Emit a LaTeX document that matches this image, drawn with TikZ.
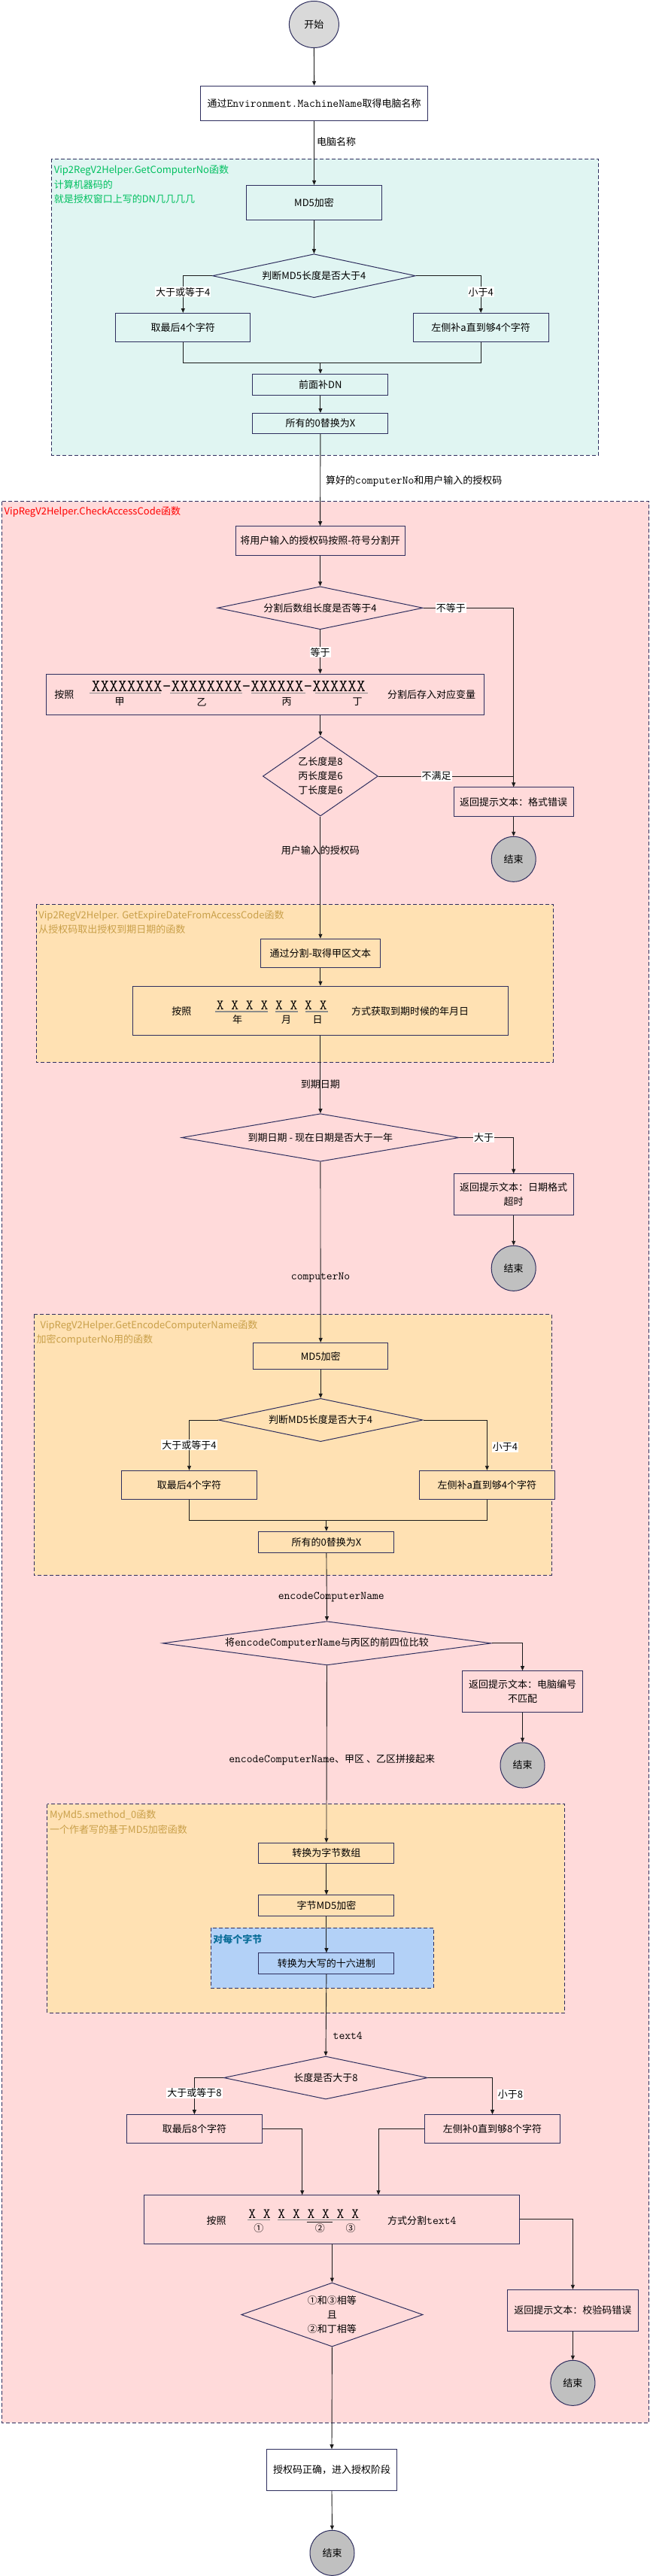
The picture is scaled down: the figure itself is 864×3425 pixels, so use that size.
\documentclass[tikz,border=0pt]{standalone}
\usepackage{fontspec}
\setmainfont{Noto Sans CJK SC}
\usetikzlibrary{shapes.geometric,arrows.meta,calc}
\definecolor{navy}{HTML}{2E2E5E}
\definecolor{cyanbg}{HTML}{E0F5F2}
\definecolor{pinkbg}{HTML}{FFDADA}
\definecolor{orangebg}{HTML}{FFE1B3}
\definecolor{bluebg}{HTML}{B3D1F7}
\definecolor{startgray}{HTML}{D9D9D9}
\definecolor{endgray}{HTML}{C0C0C0}
\definecolor{greentxt}{HTML}{00C060}
\definecolor{redtxt}{HTML}{FF0000}
\definecolor{goldtxt}{HTML}{C9A04A}
\definecolor{bluetxt}{HTML}{0B6E99}
\definecolor{linec}{HTML}{1A1A1A}
\definecolor{ulc}{HTML}{8C8C8C}
\newcommand\monotxt[1]{{\fontsize{15.2}{19}\ttfamily #1}}
\begin{document}
\begin{tikzpicture}[x=1pt,y=-1pt, font=\fontsize{13}{19}\selectfont,
  box/.style={rectangle, draw=navy, line width=1pt, inner sep=2pt, align=center},
  dec/.style={diamond, draw=navy, line width=1pt, inner sep=0pt, align=center},
  term/.style={ellipse, draw=navy, line width=1pt, inner sep=0pt, fill=endgray, minimum width=59pt, minimum height=60pt},
  region/.style={draw=navy, line width=1pt, dash pattern=on 5pt off 3pt},
  arr/.style={draw=linec, line width=0.9pt, -{Triangle[length=6pt,width=5pt]}},
  ln/.style={draw=linec, line width=0.9pt},
  lbl/.style={fill=white, inner sep=1pt},
  plbl/.style={inner sep=1pt},
  title/.style={anchor=west, inner sep=0pt},
  ul/.style={draw=ulc, line width=1.2pt},
  itxt/.style={inner sep=0pt},
]
\useasboundingbox (0,0) rectangle (864,3425);
\fill[white] (0,0) rectangle (864,3425);

% regions
\draw[region, fill=cyanbg] (68.3,211.3) rectangle (795.6,605);
\draw[region, fill=pinkbg] (2,666.7) rectangle (862.8,3221);
\draw[region, fill=orangebg] (48,1202.7) rectangle (735.5,1412.3);
\draw[region, fill=orangebg] (45.2,1747.5) rectangle (733,2094.3);
\draw[region, fill=orangebg] (62.8,2398.7) rectangle (750.4,2676);
\draw[region, fill=bluebg] (280.4,2563.3) rectangle (576.3,2643.3);

% region titles
\node[title, text=greentxt] (t1a) at (71.6,226.7) {Vip2RegV2Helper.GetComputerNo函数};
\node[title, text=greentxt] (t1b) at (71.6,245.3) {计算机器码的};
\node[title, text=greentxt] (t1c) at (71.6,264.3) {就是授权窗口上写的DN几几几几};
\node[title, text=redtxt] (t2) at (5.5,681) {VipRegV2Helper.CheckAccessCode函数};
\node[title, text=goldtxt] (t3a) at (51.2,1217.3) {Vip2RegV2Helper. GetExpireDateFromAccessCode函数};
\node[title, text=goldtxt] (t3b) at (51.2,1236) {从授权码取出授权到期日期的函数};
\node[title, text=goldtxt] (t4a) at (53.4,1762.7) {VipRegV2Helper.GetEncodeComputerName函数};
\node[title, text=goldtxt] (t4b) at (48.5,1781.7) {加密computerNo用的函数};
\node[title, text=goldtxt] (t5a) at (66,2413.3) {MyMd5.smethod\_0函数};
\node[title, text=goldtxt] (t5b) at (66,2432.3) {一个作者写的基于MD5加密函数};
\node[title, text=bluetxt, font=\fontsize{13}{19}\selectfont\bfseries] (t6) at (283.2,2578.3) {对每个字节};

% top part
\node[term, fill=startgray, minimum width=66pt, minimum height=62pt] (start) at (417.4,32.5) {开始};
\node[box, fill=white, minimum width=302pt, minimum height=46pt] (b1) at (417.6,137.3) {通过\monotxt{Environment.MachineName}取得电脑名称};
\node[box, fill=cyanbg, minimum width=180pt, minimum height=46pt] (md5a) at (417.6,269.5) {MD5加密};
\node[dec, fill=cyanbg, minimum width=270pt, minimum height=58pt, shape aspect=4.66] (d1) at (417.4,366.7) {判断MD5长度是否大于4};
\node[box, fill=cyanbg, minimum width=179pt, minimum height=38pt] (lb1) at (243.3,435.5) {取最后4个字符};
\node[box, fill=cyanbg, minimum width=180pt, minimum height=38pt] (rb1) at (639.2,435.5) {左侧补a直到够4个字符};
\node[box, fill=cyanbg, minimum width=180pt, minimum height=28pt] (dn) at (425.9,511.3) {前面补DN};
\node[box, fill=cyanbg, minimum width=180pt, minimum height=27pt] (rx1) at (425.9,563) {所有的0替换为X};

% check access code
\node[box, fill=pinkbg, minimum width=225pt, minimum height=38.6pt] (split) at (425.6,719) {将用户输入的授权码按照-符号分割开};
\node[dec, fill=pinkbg, minimum width=273pt, minimum height=57pt, shape aspect=4.79] (d2) at (425.6,808.3) {分割后数组长度是否等于4};
\node[box, fill=pinkbg, minimum width=582pt, minimum height=54pt] (bb1) at (352.9,923.2) {};
\node[itxt] (bb1a) at (85.4,923.3) {按照};
\node[itxt, anchor=base, font=\fontsize{22.8}{24}\ttfamily] (bb1x) at (303.9,919.5) {XXXXXXXX-XXXXXXXX-XXXXXX-XXXXXX};
\draw[ul] (118.5,921.8) -- (213.8,921.8);
\draw[ul] (226,921.8) -- (322,921.8);
\draw[ul] (334,921.8) -- (406,921.8);
\draw[ul] (418.7,921.8) -- (489.3,921.8);
\node[itxt] (jia) at (159,933.3) {甲};
\node[itxt] (yi) at (268,933.3) {乙};
\node[itxt] (bing) at (381,933.3) {丙};
\node[itxt] (ding) at (475,933.3) {丁};
\node[itxt] (bb1b) at (573.6,924) {分割后存入对应变量};
\node[dec, fill=pinkbg, minimum width=153pt, minimum height=106pt, shape aspect=1.44] (d3) at (425.9,1032) {乙长度是8\\丙长度是6\\丁长度是6};
\node[box, fill=pinkbg, minimum width=159pt, minimum height=38.7pt] (er1) at (682.7,1066.3) {返回提示文本：格式错误};
\node[term] (end1) at (682.7,1142.3) {结束};

% expire date
\node[box, fill=orangebg, minimum width=158.6pt, minimum height=38.4pt] (getA) at (425.9,1267.5) {通过分割-取得甲区文本};
\node[box, fill=orangebg, minimum width=499pt, minimum height=65pt] (bb2) at (425.9,1343.7) {};
\node[itxt] (bb2a) at (241.3,1345) {按照};
\node[itxt, anchor=base, font=\fontsize{19}{20}\ttfamily] (bb2x) at (361.2,1342.7) {X X X X X X X X};
\draw[ul] (286,1345) -- (356,1345);
\draw[ul] (366,1345) -- (396,1345);
\draw[ul] (406,1345) -- (436.4,1345);
\node[itxt] (nian) at (315.7,1355.5) {年};
\node[itxt] (yue) at (380.7,1355.5) {月};
\node[itxt] (ri) at (422,1355.5) {日};
\node[itxt] (bb2b) at (545,1345) {方式获取到期时候的年月日};
\node[dec, fill=pinkbg, minimum width=369pt, minimum height=63.6pt, shape aspect=5.8] (d4) at (425.9,1512.5) {到期日期 - 现在日期是否大于一年};
\node[box, fill=pinkbg, minimum width=159pt, minimum height=54.7pt] (er2) at (682.7,1588.3) {返回提示文本：日期格式\\超时};
\node[term] (end2) at (682.7,1686.3) {结束};

% encode computer name
\node[box, fill=orangebg, minimum width=179pt, minimum height=35.3pt] (md5b) at (426.2,1803) {MD5加密};
\node[dec, fill=orangebg, minimum width=271.6pt, minimum height=57.3pt, shape aspect=4.74] (d5) at (426.2,1888) {判断MD5长度是否大于4};
\node[box, fill=orangebg, minimum width=180pt, minimum height=38pt] (lb2) at (251.5,1974.3) {取最后4个字符};
\node[box, fill=orangebg, minimum width=179.6pt, minimum height=38pt] (rb2) at (647.4,1974.3) {左侧补a直到够4个字符};
\node[box, fill=orangebg, minimum width=180pt, minimum height=28pt] (rx2) at (433.9,2050.3) {所有的0替换为X};
\node[dec, fill=pinkbg, minimum width=437pt, minimum height=58.3pt, shape aspect=7.5] (d6) at (434.5,2184.8) {将\monotxt{encodeComputerName}与丙区的前四位比较};
\node[box, fill=pinkbg, minimum width=159.3pt, minimum height=54.7pt] (er3) at (694.5,2249) {返回提示文本：电脑编号\\不匹配};
\node[term] (end3) at (694.5,2347) {结束};

% md5 function
\node[box, fill=orangebg, minimum width=180pt, minimum height=27.4pt] (tb) at (433.9,2464) {转换为字节数组};
\node[box, fill=orangebg, minimum width=180pt, minimum height=27.6pt] (bm) at (433.9,2533.5) {字节MD5加密};
\node[box, fill=bluebg, minimum width=180pt, minimum height=27.6pt] (hex) at (433.9,2610.5) {转换为大写的十六进制};

% text4
\node[dec, fill=pinkbg, minimum width=271pt, minimum height=57pt, shape aspect=4.75] (d7) at (433,2762.5) {长度是否大于8};
\node[box, fill=pinkbg, minimum width=179.6pt, minimum height=38.3pt] (lb3) at (258.4,2830.8) {取最后8个字符};
\node[box, fill=pinkbg, minimum width=179.7pt, minimum height=38.3pt] (rb3) at (654.5,2830.8) {左侧补0直到够8个字符};
\node[box, fill=pinkbg, minimum width=499pt, minimum height=65pt] (bb3) at (441.4,2950.8) {};
\node[itxt] (bb3a) at (287.6,2952.7) {按照};
\node[itxt, anchor=base, font=\fontsize{19}{20}\ttfamily] (bb3x) at (403.7,2949.3) {X X X X X X X X};
\draw[ul] (329,2951.5) -- (359,2951.5);
\draw[ul] (368.6,2951.5) -- (478.8,2951.5);
\draw[draw=linec, line width=1pt] (407.7,2954) -- (442.4,2954);
\node[itxt] (c1) at (343.8,2962.5) {①};
\node[itxt] (c2) at (425.3,2962.5) {②};
\node[itxt] (c3) at (466,2962.5) {③};
\node[itxt] (bb3b) at (560.8,2952.7) {方式分割\monotxt{text4}};
\node[box, fill=pinkbg, minimum width=174pt, minimum height=55pt] (er4) at (761.4,3071.8) {返回提示文本：校验码错误};
\node[term] (end4) at (761.4,3168.3) {结束};
\node[dec, fill=pinkbg, minimum width=241.3pt, minimum height=85pt, shape aspect=2.84] (d8) at (441.4,3077.5) {①和③相等\\且\\②和丁相等};
\node[box, fill=white, minimum width=173.5pt, minimum height=54.7pt] (ok) at (441,3284) {授权码正确，进入授权阶段};
\node[term] (end5) at (441.5,3394.3) {结束};

% connectors
\draw[arr] (start.south) -- (b1.north);
\draw[arr] (b1.south) -- (md5a.north) node[pos=0.33, right=2pt, plbl] {电脑名称};
\draw[arr] (md5a.south) -- (d1.north);
\draw[arr] (d1.west) -| (lb1.north) node[pos=0.72, lbl] {大于或等于4};
\draw[arr] (d1.east) -| (rb1.north) node[pos=0.72, lbl] {小于4};
\coordinate (m1) at (425.9,482.3);
\draw[ln] (lb1.south) |- (m1) -| (rb1.south);
\draw[arr] (m1) -- (dn.north);
\draw[arr] (dn.south) -- (rx1.north);
\draw[arr] (rx1.south) -- (split.north) node[pos=0.515, right=6pt, plbl] {算好的\monotxt{computerNo}和用户输入的授权码};
\draw[arr] (split.south) -- (d2.north);
\draw[arr] (d2.south) -- (d2.south |- bb1.north) node[pos=0.51, lbl] {等于};
\draw[arr] (d2.east) -| (er1.north) node[pos=0.153, lbl] {不等于};
\draw[arr] (d3.north |- bb1.south) -- (d3.north);
\coordinate (j1) at (682.7,1032);
\draw[ln] (d3.east) -- (j1) node[pos=0.43, lbl] {不满足};
\draw[arr] (er1.south) -- (end1.north);
\draw[arr] (d3.south) -- (getA.north) node[pos=0.28, plbl] {用户输入的授权码};
\draw[arr] (getA.south) -- (bb2.north);
\draw[arr] (bb2.south) -- (d4.north) node[pos=0.63, plbl] {到期日期};
\draw[arr] (d4.east) -| (er2.north) node[pos=0.225, lbl] {大于};
\draw[arr] (er2.south) -- (end2.north);
\draw[arr] (d4.south) -- (md5b.north) node[pos=0.64, plbl] {\monotxt{computerNo}};
\draw[arr] (md5b.south) -- (d5.north);
\draw[arr] (d5.west) -| (lb2.north) node[pos=0.75, lbl] {大于或等于4};
\draw[arr] (d5.east) -| (rb2.north) node[pos=0.77, right=6pt, lbl] {小于4};
\coordinate (m2) at (433.9,2021);
\draw[ln] (lb2.south) |- (m2) -| (rb2.south);
\draw[arr] (m2) -- (rx2.north);
\draw[arr] (rx2.south) -- (d6.north) node[pos=0.645, xshift=6pt, plbl] {\monotxt{encodeComputerName}};
\draw[arr] (d6.east) -| (er3.north);
\draw[arr] (er3.south) -- (end3.north);
\draw[arr] (d6.south) -- (tb.north) node[pos=0.533, xshift=7pt, plbl] {\monotxt{encodeComputerName}、甲区 、乙区拼接起来};
\draw[arr] (tb.south) -- (bm.north);
\draw[arr] (bm.south) -- (hex.north);
\draw[arr] (hex.south) -- (d7.north) node[pos=0.75, right=8pt, plbl] {\monotxt{text4}};
\draw[arr] (d7.west) -| (lb3.north) node[pos=0.71, lbl] {大于或等于8};
\draw[arr] (d7.east) -| (rb3.north) node[pos=0.73, right=6pt, lbl] {小于8};
\coordinate (a3l) at (401.7,2918.3);
\coordinate (a3r) at (503,2918.3);
\draw[arr] (lb3.east) -| (a3l);
\draw[arr] (rb3.west) -| (a3r);
\draw[arr] (bb3.east) -| (er4.north);
\draw[arr] (er4.south) -- (end4.north);
\draw[arr] (bb3.south) -- (d8.north);
\draw[arr] (d8.south) -- (ok.north);
\draw[arr] (ok.south) -- (end5.north);
\end{tikzpicture}
\end{document}
